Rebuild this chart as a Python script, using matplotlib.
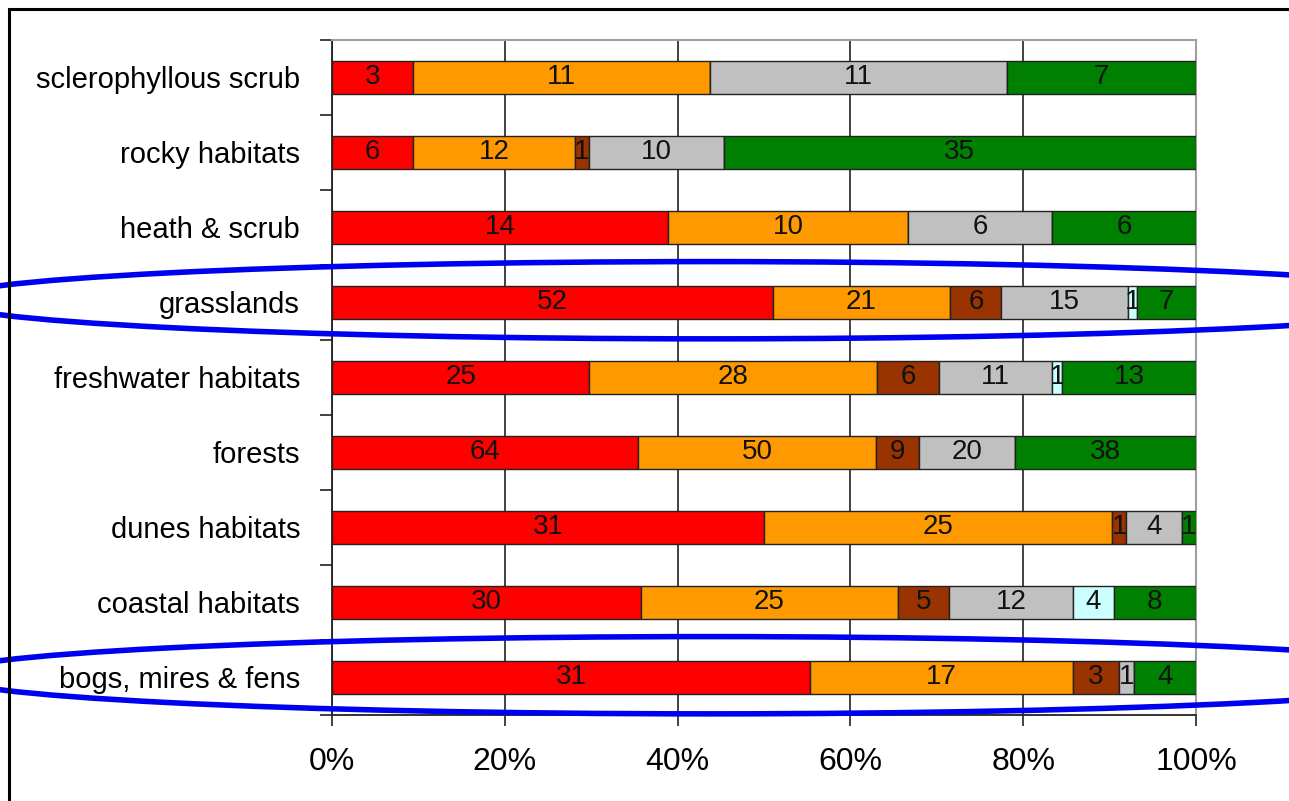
import matplotlib
matplotlib.use("Agg")
import matplotlib.pyplot as plt
import numpy as np
from matplotlib.patches import Ellipse, Rectangle
from matplotlib.transforms import blended_transform_factory
from matplotlib.ticker import FixedLocator, PercentFormatter

plt.rcParams["font.family"] = ["Liberation Sans", "DejaVu Sans"]

habitats = ["sclerophyllous scrub", "rocky habitats", "heath & scrub",
            "grasslands", "freshwater habitats", "forests", "dunes habitats",
            "coastal habitats", "bogs, mires & fens"]

# counts per habitat, one list per category (top row first)
red    = [3, 6, 14, 52, 25, 64, 31, 30, 31]
orange = [11, 12, 10, 21, 28, 50, 25, 25, 17]
brown  = [0, 1, 0, 6, 6, 9, 1, 5, 3]
grey   = [11, 10, 6, 15, 11, 20, 4, 12, 1]
cyan   = [0, 0, 0, 1, 1, 0, 0, 4, 0]
green  = [7, 35, 6, 7, 13, 38, 1, 8, 4]

series = [(red, "#ff0000"), (orange, "#ff9900"), (brown, "#993300"),
          (grey, "#c0c0c0"), (cyan, "#ccffff"), (green, "#008000")]
highlighted = ["grasslands", "bogs, mires & fens"]

counts = np.array([s for s, _ in series], float)
totals = counts.sum(0)
share = counts / totals

fig = plt.figure(figsize=(12.89, 8.01), dpi=100)
ax = fig.add_axes([0.2576, 0.1074, 0.6703, 0.8427])

ypos = np.arange(len(habitats))
left = np.zeros(len(habitats))
for (vals, col), frac in zip(series, share):
    bars = ax.barh(ypos, frac, left=left, height=0.43, color=col,
                   edgecolor="#222222", linewidth=1.0, zorder=3)
    ax.bar_label(bars, labels=[str(v) if v else "" for v in vals],
                 label_type="center", fontsize=20, color="#111111")
    left += frac

ax.set_xlim(0, 1)
ax.set_ylim(len(habitats) - 0.5, -0.5)

ax.set_xticks(np.linspace(0, 1, 6))
ax.xaxis.set_major_formatter(PercentFormatter(1.0, decimals=0))
ax.tick_params(axis="x", direction="out", length=8, width=1.2,
               labelsize=23, pad=15, color="#222222")
ax.grid(axis="x", color="#333333", linewidth=1.3, zorder=0)

ax.set_yticks(ypos)
ax.set_yticklabels(habitats)
ax.yaxis.set_minor_locator(FixedLocator(np.arange(len(habitats) + 1) - 0.5))
ax.tick_params(axis="y", which="major", length=0, labelsize=21, pad=23)
ax.tick_params(axis="y", which="minor", direction="out", length=9,
               width=1.2, color="#222222")

for side in ("left", "bottom"):
    ax.spines[side].set_color("#222222")
    ax.spines[side].set_linewidth(1.3)
for side in ("top", "right"):
    ax.spines[side].set_color("#a0a0a0")
    ax.spines[side].set_linewidth(1.5)

# hand-drawn style rings around the highlighted rows
ring_tf = blended_transform_factory(fig.transFigure, ax.transData)
for name in highlighted:
    y = habitats.index(name)
    ax.add_artist(Ellipse((0.551, y - 0.03), width=1.19, height=1.03,
                          transform=ring_tf, fill=False, edgecolor="#0000f0",
                          linewidth=4.0, clip_on=False, zorder=6))

# frame around the whole chart
fig.add_artist(Rectangle((0.0072, -0.1), 1.2, 1.0 + 0.1 - 0.0118,
                         transform=fig.transFigure, fill=False,
                         edgecolor="black", linewidth=2.2))

fig.savefig("out.png", dpi=100)
